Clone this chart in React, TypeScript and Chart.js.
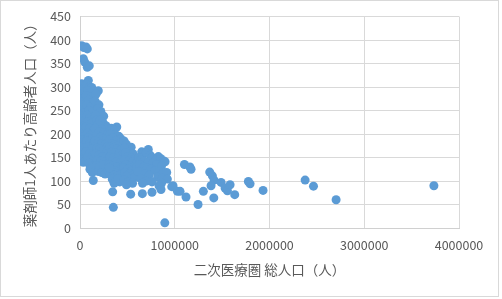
import React, { useEffect, useRef } from "react";
import { Chart, registerables } from "chart.js";

Chart.register(...registerables);

// [total population of secondary medical area, elderly population per pharmacist]
const bandUnder60k: [number, number][] = [
  [18000, 388], [40000, 384], [35000, 360], [50000, 353], [18000, 307], [35000, 297],
  [25000, 285], [10000, 275], [45000, 270], [20000, 262], [18000, 251], [40000, 245],
  [12000, 238], [18000, 233], [30000, 225], [50000, 218], [8000, 210], [25000, 205],
  [18000, 201], [45000, 195], [10000, 188], [30000, 182], [55000, 178], [15000, 172],
  [40000, 168], [25000, 160], [10000, 155], [50000, 152], [20000, 146], [35000, 140],
];

const band60to150k: [number, number][] = [
  [63000, 385], [77000, 381], [77000, 342], [98000, 345], [88000, 314], [70000, 305],
  [100000, 300], [124000, 299], [80000, 292], [110000, 288], [65000, 282], [125000, 280],
  [90000, 272], [140000, 268], [70000, 262], [115000, 258], [95000, 250], [130000, 245],
  [75000, 240], [105000, 235], [145000, 232], [85000, 226], [120000, 222], [65000, 215],
  [100000, 212], [140000, 208], [80000, 202], [115000, 198], [90000, 192], [130000, 190],
  [70000, 185], [105000, 180], [145000, 178], [85000, 172], [120000, 168], [65000, 162],
  [100000, 158], [135000, 155], [80000, 150], [115000, 146], [145000, 142], [90000, 138],
  [125000, 132], [105000, 125], [140000, 101], [130000, 118],
];

const band150to300k: [number, number][] = [
  [193000, 292], [170000, 285], [160000, 270], [200000, 262], [187000, 254], [220000, 248],
  [165000, 240], [250000, 238], [176000, 229], [211000, 229], [240000, 225], [190000, 220],
  [270000, 218], [282000, 215], [160000, 212], [230000, 210], [200000, 205], [260000, 203],
  [290000, 200], [175000, 197], [215000, 193], [245000, 190], [280000, 188], [160000, 185],
  [195000, 182], [230000, 180], [265000, 178], [295000, 175], [180000, 170], [210000, 168],
  [250000, 165], [285000, 162], [165000, 158], [200000, 155], [235000, 152], [270000, 150],
  [300000, 148], [185000, 145], [220000, 142], [255000, 140], [290000, 137], [170000, 133],
  [205000, 130], [240000, 128], [275000, 125], [195000, 120], [230000, 118], [265000, 115],
  [250000, 135], [300000, 122],
];

const band300to450k: [number, number][] = [
  [388000, 215], [330000, 212], [360000, 208], [377000, 198], [320000, 200], [410000, 195],
  [345000, 192], [430000, 190], [310000, 187], [380000, 185], [440000, 182], [330000, 180],
  [365000, 177], [405000, 175], [315000, 172], [350000, 170], [390000, 168], [430000, 166],
  [335000, 162], [370000, 160], [415000, 158], [445000, 155], [320000, 152], [355000, 150],
  [395000, 148], [435000, 145], [340000, 142], [375000, 140], [420000, 138], [310000, 135],
  [350000, 132], [390000, 130], [440000, 128], [330000, 125], [365000, 122], [405000, 120],
  [445000, 118], [320000, 115], [355000, 112], [395000, 110], [430000, 108], [340000, 104],
  [380000, 100], [420000, 98], [360000, 95], [345000, 77], [352000, 44], [400000, 105],
  [310000, 128],
];

const band450to600k: [number, number][] = [
  [465000, 185], [490000, 178], [510000, 167], [540000, 172], [470000, 170], [525000, 162],
  [560000, 158], [480000, 160], [500000, 152], [545000, 150], [580000, 148], [470000, 145],
  [515000, 142], [555000, 140], [595000, 138], [485000, 135], [530000, 132], [570000, 130],
  [460000, 128], [505000, 125], [545000, 122], [590000, 120], [475000, 118], [520000, 115],
  [560000, 112], [495000, 110], [540000, 105], [580000, 108], [465000, 102], [510000, 98],
  [555000, 95], [490000, 92], [535000, 72], [600000, 130],
];

const band600kto1m: [number, number][] = [
  [651000, 162], [665000, 158], [721000, 167], [700000, 160], [740000, 155], [760000, 150],
  [827000, 152], [800000, 145], [850000, 148], [880000, 143], [898000, 141], [620000, 150],
  [640000, 145], [680000, 142], [720000, 140], [770000, 138], [810000, 135], [860000, 132],
  [630000, 135], [670000, 130], [710000, 128], [750000, 125], [790000, 122], [840000, 120],
  [880000, 118], [915000, 118], [610000, 120], [690000, 115], [730000, 112],
  [820000, 108], [870000, 106], [922000, 104], [640000, 105], [700000, 100],
  [760000, 98], [860000, 95], [660000, 95], [834000, 90],
  [855000, 82], [760000, 76], [658000, 73], [982000, 90], [968000, 88],
  [895000, 11],
];

const bandOver1m: [number, number][] = [
  [1028000, 78], [1056000, 78], [1119000, 66], [1102000, 135], [1160000, 130], [1172000, 125],
  [1246000, 50], [1302000, 78], [1369000, 119], [1397000, 111], [1415000, 102], [1383000, 90],
  [1412000, 64], [1489000, 97], [1531000, 85], [1556000, 79], [1584000, 92], [1633000, 71],
  [1777000, 99], [1795000, 94], [1932000, 80], [2376000, 102], [2464000, 89], [2703000, 60],
  [3735000, 90],
];

const xTitle = "二次医療圏 総人口（人）";
const yTitle = "薬剤師1人あたり高齢者人口（人）";
const xMin = 0, xMax = 4000000, xStep = 1000000;
const yMin = 0, yMax = 450, yStep = 50;

const allBands = [bandUnder60k, band60to150k, band150to300k, band300to450k, band450to600k, band600kto1m, bandOver1m];

const frame = {
  id: "frame",
  beforeDraw(chart: any) {
    const ctx = chart.ctx;
    ctx.save();
    ctx.fillStyle = "#ffffff";
    ctx.fillRect(0, 0, chart.width, chart.height);
    ctx.strokeStyle = "#d9d9d9";
    ctx.lineWidth = 1;
    ctx.strokeRect(0.5, 0.5, 498, 296);
    ctx.restore();
  },
};

export default function App() {
  const ref = useRef<HTMLCanvasElement>(null);
  useEffect(() => {
    const points = allBands.flat().map(([x, y]) => ({ x, y }));
    const font = { family: "'Noto Sans CJK JP', 'Noto Sans', sans-serif", size: 12.5 };
    const chart = new Chart(ref.current!, {
      type: "scatter",
      data: {
        datasets: [
          {
            data: points,
            backgroundColor: "#5B9BD5",
            borderWidth: 0,
            pointRadius: 4.5,
            pointHoverRadius: 4.5,
          },
        ],
      },
      options: {
        responsive: false,
        animation: false,
        events: [],
        layout: { padding: { top: 16, right: 43, bottom: 1, left: 0 } },
        plugins: { legend: { display: false }, tooltip: { enabled: false } },
        scales: {
          x: {
            type: "linear",
            min: xMin,
            max: xMax,
            afterFit: (s: any) => { s.height = 70; },
            ticks: {
              stepSize: xStep,
              padding: 10,
              color: "#595959",
              font,
              maxRotation: 0,
              callback: (v: any) => String(v),
            },
            grid: { color: "#d9d9d9", drawTicks: false },
            border: { color: "#d0d0d0" },
            title: {
              display: true,
              text: xTitle,
              color: "#595959",
              font: { ...font, size: 13.5 },
              padding: { top: 0, bottom: 20 },
            },
          },
          y: {
            type: "linear",
            min: yMin,
            max: yMax,
            afterFit: (s: any) => { s.width = 80; },
            ticks: { stepSize: yStep, padding: 9, color: "#595959", font },
            grid: { color: "#d9d9d9", drawTicks: false },
            border: { color: "#d0d0d0" },
            title: {
              display: true,
              text: yTitle,
              color: "#595959",
              font: { ...font, size: 13.5 },
              padding: { top: 22, bottom: 0 },
            },
          },
        },
      },
      plugins: [frame],
    });
    return () => chart.destroy();
  }, []);
  return (
    <div style={{ position: "absolute", left: 0, top: 0, width: 502, height: 299 }}>
      <canvas ref={ref} width={502} height={299} />
    </div>
  );
}
